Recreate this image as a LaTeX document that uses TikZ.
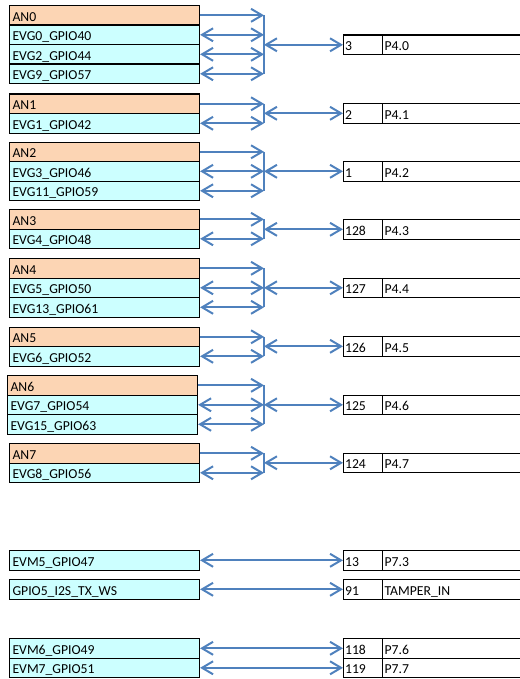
\documentclass[tikz,border=0pt]{standalone}
\usepackage{fontspec}
\setmainfont{Carlito}
\usetikzlibrary{arrows.meta}
\definecolor{anfill}{RGB}{252,213,180}
\definecolor{evfill}{RGB}{204,255,255}
\definecolor{arrblue}{RGB}{79,129,189}
\tikzset{
  cellbase/.style={draw=black, line width=1.1bp, anchor=north west, rectangle,
    inner ysep=0pt, minimum height=19.5bp, text height=15.5bp, text depth=4bp,
    align=left, font=\fontsize{13.7bp}{15bp}\selectfont},
  sigcell/.style={cellbase, inner xsep=3bp, text width=184bp},
  ancell/.style={sigcell, fill=anfill},
  evcell/.style={sigcell, fill=evfill},
  numcell/.style={cellbase, inner xsep=1.5bp, text width=36bp},
  namecell/.style={cellbase, inner xsep=2bp, text width=150bp},
  arr/.style={draw=arrblue, line width=2bp},
  >={Straight Barb[length=11bp,width=13bp]}
}
\begin{document}
\begin{tikzpicture}[x=1bp,y=-1bp]
\useasboundingbox (0,0) rectangle (520,679);
\coordinate (bus) at (264,0);
% ---------- block 0
\node[ancell] (b0a) at (9,5) {AN0};
\node[evcell] (b0b) at (9,24.5) {EVG0\_GPIO40};
\node[evcell] (b0c) at (9,44) {EVG2\_GPIO44};
\node[evcell] (b0d) at (9,63.5) {EVG9\_GPIO57};
\node[numcell] (p0n) at (343,34.5) {3};
\node[namecell] (p0s) at (382,34.5) {P4.0};
% ---------- block 1
\node[ancell] (b1a) at (9,93.5) {AN1};
\node[evcell] (b1b) at (9,113) {EVG1\_GPIO42};
\node[numcell] (p1n) at (343,103) {2};
\node[namecell] (p1s) at (382,103) {P4.1};
% ---------- block 2
\node[ancell] (b2a) at (9,141.5) {AN2};
\node[evcell] (b2b) at (9,161) {EVG3\_GPIO46};
\node[evcell] (b2c) at (9,180.5) {EVG11\_GPIO59};
\node[numcell] (p2n) at (343,161) {1};
\node[namecell] (p2s) at (382,161) {P4.2};
% ---------- block 3
\node[ancell] (b3a) at (9,209) {AN3};
\node[evcell] (b3b) at (9,228.5) {EVG4\_GPIO48};
\node[numcell] (p3n) at (343,219) {128};
\node[namecell] (p3s) at (382,219) {P4.3};
% ---------- block 4
\node[ancell] (b4a) at (9,258) {AN4};
\node[evcell] (b4b) at (9,277.5) {EVG5\_GPIO50};
\node[evcell] (b4c) at (9,297) {EVG13\_GPIO61};
\node[numcell] (p4n) at (343,277.5) {127};
\node[namecell] (p4s) at (382,277.5) {P4.4};
% ---------- block 5
\node[ancell] (b5a) at (9,326.5) {AN5};
\node[evcell] (b5b) at (9,346) {EVG6\_GPIO52};
\node[numcell] (p5n) at (343,336) {126};
\node[namecell] (p5s) at (382,336) {P4.5};
% ---------- block 6
\node[ancell] (b6a) at (7,375) {AN6};
\node[evcell] (b6b) at (7,394.5) {EVG7\_GPIO54};
\node[evcell] (b6c) at (7,414) {EVG15\_GPIO63};
\node[numcell] (p6n) at (343,394.5) {125};
\node[namecell] (p6s) at (382,394.5) {P4.6};
% ---------- block 7
\node[ancell] (b7a) at (9,443) {AN7};
\node[evcell] (b7b) at (9,462.5) {EVG8\_GPIO56};
\node[numcell] (p7n) at (343,452.5) {124};
\node[namecell] (p7s) at (382,452.5) {P4.7};
% ---------- bottom rows
\node[evcell] (m5) at (9,550) {EVM5\_GPIO47};
\node[evcell] (g5) at (9,579) {GPIO5\_I2S\_TX\_WS};
\node[evcell] (m6) at (9,638) {EVM6\_GPIO49};
\node[evcell] (m7) at (9,657.5) {EVM7\_GPIO51};
\node[numcell] (p8n) at (343,550) {13};
\node[namecell] (p8s) at (382,550) {P7.3};
\node[numcell] (p9n) at (343,579) {91};
\node[namecell] (p9s) at (382,579) {TAMPER\_IN};
\node[numcell] (p10n) at (343,638) {118};
\node[namecell] (p10s) at (382,638) {P7.6};
\node[numcell] (p11n) at (343,657.5) {119};
\node[namecell] (p11s) at (382,657.5) {P7.7};
% ---------- connectors
% block 0
\draw[arr,->] (b0a.east) -- (b0a.east -| bus);
\foreach \r in {b0b,b0c,b0d} \draw[arr,<->] (\r.east) -- (\r.east -| bus);
\draw[arr] (b0a.east -| bus) -- (b0d.east -| bus);
\draw[arr,<->] (p0n.west -| bus) -- (p0n.west);
% block 1
\draw[arr,->] (b1a.east) -- (b1a.east -| bus);
\draw[arr,<->] (b1b.east) -- (b1b.east -| bus);
\draw[arr] (b1a.east -| bus) -- (b1b.east -| bus);
\draw[arr,<->] (p1n.west -| bus) -- (p1n.west);
% block 2
\draw[arr,->] (b2a.east) -- (b2a.east -| bus);
\foreach \r in {b2b,b2c} \draw[arr,<->] (\r.east) -- (\r.east -| bus);
\draw[arr] (b2a.east -| bus) -- (b2c.east -| bus);
\draw[arr,<->] (p2n.west -| bus) -- (p2n.west);
% block 3
\draw[arr,->] (b3a.east) -- (b3a.east -| bus);
\draw[arr,<->] (b3b.east) -- (b3b.east -| bus);
\draw[arr] (b3a.east -| bus) -- (b3b.east -| bus);
\draw[arr,<->] (p3n.west -| bus) -- (p3n.west);
% block 4
\draw[arr,->] (b4a.east) -- (b4a.east -| bus);
\foreach \r in {b4b,b4c} \draw[arr,<->] (\r.east) -- (\r.east -| bus);
\draw[arr] (b4a.east -| bus) -- (b4c.east -| bus);
\draw[arr,<->] (p4n.west -| bus) -- (p4n.west);
% block 5
\draw[arr,->] (b5a.east) -- (b5a.east -| bus);
\draw[arr,<->] (b5b.east) -- (b5b.east -| bus);
\draw[arr] (b5a.east -| bus) -- (b5b.east -| bus);
\draw[arr,<->] (p5n.west -| bus) -- (p5n.west);
% block 6
\draw[arr,->] (b6a.east) -- (b6a.east -| bus);
\foreach \r in {b6b,b6c} \draw[arr,<->] (\r.east) -- (\r.east -| bus);
\draw[arr] (b6a.east -| bus) -- (b6c.east -| bus);
\draw[arr,<->] (p6n.west -| bus) -- (p6n.west);
% block 7
\draw[arr,->] (b7a.east) -- (b7a.east -| bus);
\draw[arr,<->] (b7b.east) -- (b7b.east -| bus);
\draw[arr] (b7a.east -| bus) -- (b7b.east -| bus);
\draw[arr,<->] (p7n.west -| bus) -- (p7n.west);
% bottom
\draw[arr,<->] (m5.east) -- (p8n.west);
\draw[arr,<->] (g5.east) -- (p9n.west);
\draw[arr,<->] (m6.east) -- (p10n.west);
\draw[arr,<->] (m7.east) -- (p11n.west);
\end{tikzpicture}
\end{document}
